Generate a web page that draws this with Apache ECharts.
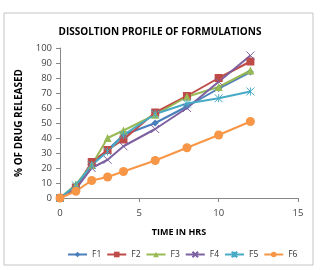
<!DOCTYPE html>
<html>
<head>
<meta charset="utf-8">
<script src="https://cdn.jsdelivr.net/npm/echarts@6/dist/echarts.min.js"></script>
<style>
  html, body { margin: 0; padding: 0; background: #fff; }
  #chart { width: 320px; height: 270px; }
</style>
</head>
<body>
<div id="chart"></div>
<script>
// time points (hrs)
const hours = [0, 1, 2, 3, 4, 6, 8, 10, 12];
// % drug released per formulation
const f1 = [0, 7, 22, 32, 42, 50, 61, 73, 84];
const f2 = [0, 7, 24, 32, 39, 57, 68, 80, 91];
const f3 = [0, 9, 22, 40, 45, 55.5, 67.5, 74, 85];
const f4 = [0, 6, 20, 25.5, 34.5, 46, 60, 77.5, 95];
const f5 = [0, 8.5, 22, 31, 42, 56, 63, 66.5, 71];
const f6 = [0, 4.5, 11.7, 14, 17.7, 25, 33.5, 42, 51];
const names = ['F1', 'F2', 'F3', 'F4', 'F5', 'F6'];

const chart = echarts.init(document.getElementById('chart'));

const colors = ['#4A7EBB', '#BE4B48', '#98B954', '#7D60A0', '#46AAC5', '#F79646'];
const symbols = [
    'diamond',
    'rect',
    'triangle',
    'path://M0,0L10,10M10,0L0,10',
    'path://M0,0L10,10M10,0L0,10M5,0L5,10',
    'circle'
];
const sizes = [7, 8, 8, 8, 8, 9];
const allData = [f1, f2, f3, f4, f5, f6];

const series = allData.map(function (vals, i) {
    const cross = (i === 3 || i === 4);
    return {
        name: names[i],
        type: 'line',
        data: hours.map(function (h, j) { return [h, vals[j]]; }),
        symbol: symbols[i],
        symbolSize: sizes[i],
        lineStyle: { color: colors[i], width: 2 },
        itemStyle: {
            color: cross ? 'rgba(0,0,0,0)' : colors[i],
            borderColor: colors[i],
            borderWidth: cross ? 1 : 0
        },
        emphasis: { disabled: true },
        animation: false
    };
});

const option = {
    animation: false,
    title: {
        text: 'DISSOLTION PROFILE OF FORMULATIONS',
        left: 'center',
        top: 22,
        textStyle: { fontFamily: 'Open Sans', fontWeight: 'bold', fontSize: 10, color: '#000' }
    },
    grid: { left: 60, right: 22, top: 48, bottom: 72 },
    xAxis: {
        type: 'value',
        min: 0, max: 15, interval: 5,
        name: 'TIME IN HRS',
        nameLocation: 'middle',
        nameGap: 30,
        nameTextStyle: { fontFamily: 'Open Sans', fontWeight: 'bold', fontSize: 9, color: '#000' },
        axisLine: { lineStyle: { color: '#888' } },
        axisTick: { show: true, length: 4, lineStyle: { color: '#888' } },
        axisLabel: { fontFamily: 'Open Sans', fontSize: 9.5, color: '#444', margin: 10 },
        splitLine: { show: false }
    },
    yAxis: {
        type: 'value',
        min: 0, max: 100, interval: 10,
        name: '% OF DRUG RELEASED',
        nameLocation: 'middle',
        nameGap: 36,
        nameTextStyle: { fontFamily: 'Open Sans', fontWeight: 'bold', fontSize: 10, color: '#000' },
        axisLine: { show: true, lineStyle: { color: '#888' } },
        axisTick: { show: true, length: 4, lineStyle: { color: '#888' } },
        axisLabel: { fontFamily: 'Open Sans', fontSize: 9.5, color: '#444', margin: 8 },
        splitLine: { show: false }
    },
    legend: {
        data: names,
        bottom: 6,
        left: 62,
        itemWidth: 19,
        itemHeight: 7,
        itemGap: 5,
        textStyle: { fontFamily: 'Open Sans', fontSize: 8.5, color: '#333' }
    },
    graphic: [{
        type: 'rect',
        shape: { x: 4, y: 13, width: 309, height: 252 },
        style: { fill: null, stroke: '#c4c4c4', lineWidth: 1 },
        silent: true,
        z: -1
    }],
    series: series
};

chart.setOption(option);
</script>
</body>
</html>
